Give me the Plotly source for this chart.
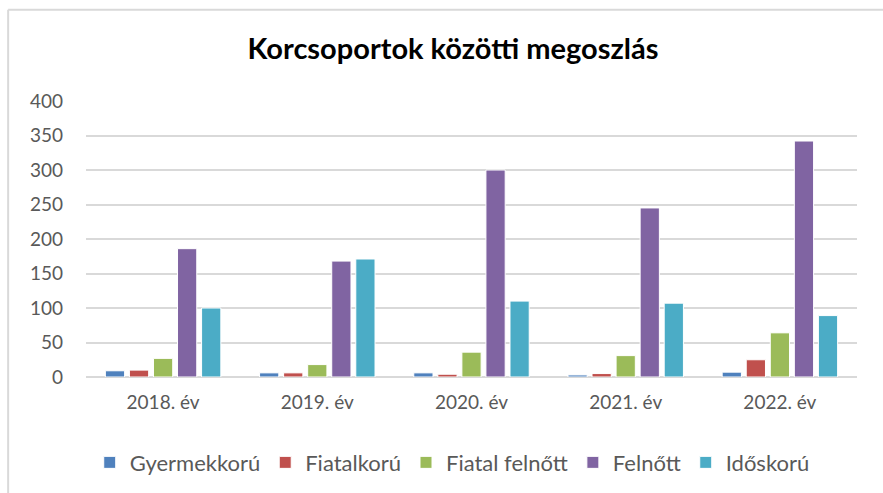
import plotly.graph_objects as go

years = ['2018. év', '2019. év', '2020. év', '2021. év', '2022. év']
gyermekkoru = [9, 6, 6, 3, 7]
fiatalkoru = [10, 6, 4, 5, 25]
fiatal_felnott = [27, 18, 36, 31, 64]
felnott = [186, 168, 300, 245, 342]
idoskoru = [100, 171, 110, 107, 89]

series = [
    ('Gyermekkorú', gyermekkoru, '#4F81BD'),
    ('Fiatalkorú', fiatalkoru, '#C0504D'),
    ('Fiatal felnőtt', fiatal_felnott, '#9BBB59'),
    ('Felnőtt', felnott, '#8064A2'),
    ('Időskorú', idoskoru, '#4BACC6'),
]

fig = go.Figure()
for name, vals, color in series:
    fig.add_trace(go.Bar(x=years, y=vals, name=name,
                         marker=dict(color=color, line=dict(color='white', width=1))))

font = 'Lato, Open Sans, sans-serif'
fig.update_layout(
    width=883, height=493,
    barmode='group', bargap=0.22, bargroupgap=0.2,
    plot_bgcolor='white', paper_bgcolor='white',
    margin=dict(l=86, r=26, t=101, b=116, autoexpand=False),
    title=dict(text='<b>Korcsoportok közötti megoszlás</b>', x=0.513, xanchor='center',
               y=0.9, yanchor='middle',
               font=dict(family=font, size=29, color='black')),
    font=dict(family=font, size=19, color='#595959'),
    xaxis=dict(showgrid=False, showline=False, ticks='', ticklabelstandoff=12,
               tickfont=dict(size=19, color='#595959')),
    yaxis=dict(range=[0, 400], dtick=50, showgrid=True, gridcolor='#D9D9D9', gridwidth=1.5,
               zeroline=True, zerolinecolor='#D9D9D9', zerolinewidth=1.5,
               ticklabelstandoff=22, tickfont=dict(size=19, color='#595959')),
    legend=dict(orientation='h', x=0.475, xanchor='center', y=-0.31, yanchor='middle',
                font=dict(size=22, color='#595959'), itemwidth=30, tracegroupgap=0),
    shapes=[
        dict(type='line', xref='paper', yref='paper', x0=-0.101, x1=1.1, y0=1.331, y1=1.331,
             line=dict(color='#D9D9D9', width=2)),
        dict(type='line', xref='paper', yref='paper', x0=-0.101, x1=-0.101, y0=1.331, y1=-0.5,
             line=dict(color='#D9D9D9', width=2)),
    ],
)

fig.write_html('out.html', config={'displayModeBar': False},
               post_script="document.body.style.margin='0';")
